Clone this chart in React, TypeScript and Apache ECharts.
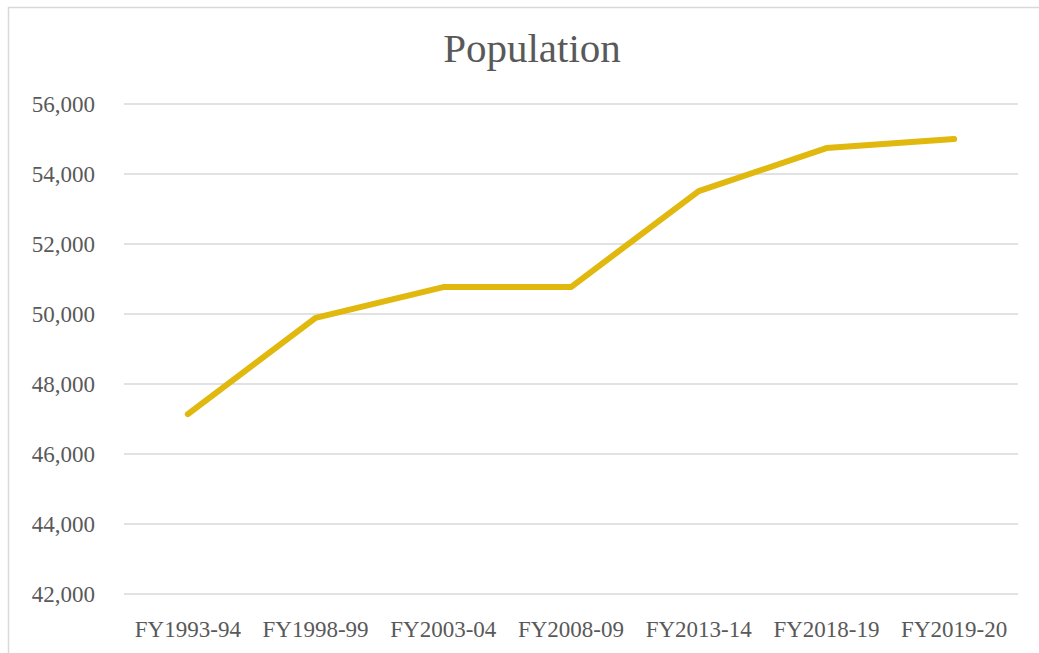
import React, { useEffect, useRef } from "react";
import * as echarts from "echarts";

const categories = ["FY1993-94", "FY1998-99", "FY2003-04", "FY2008-09", "FY2013-14", "FY2018-19", "FY2019-20"];
const population = [47140, 49890, 50770, 50770, 53510, 54740, 55000];
const yMin = 42000;
const yMax = 56000;
const yStep = 2000;

const FONT = "'Palatino Linotype', 'Book Antiqua', Palatino, 'Liberation Serif', serif";

export default function App() {
  const ref = useRef<HTMLDivElement>(null);
  useEffect(() => {
    if (!ref.current) return;
    const chart = echarts.init(ref.current, null, { renderer: "svg" });
    chart.setOption({
      animation: false,
      backgroundColor: "#ffffff",
      title: {
        text: "Population",
        left: 527,
        top: 22,
        textAlign: "center",
        textStyle: { fontFamily: FONT, fontSize: 41, fontWeight: "normal", color: "#595959" },
      },
      graphic: [
        {
          type: "rect",
          left: 6,
          top: 5,
          shape: { width: 1060, height: 680 },
          style: { fill: "none", stroke: "#d9d9d9", lineWidth: 1.5 },
          silent: true,
        },
      ],
      grid: { left: 124, right: 21, top: 104, bottom: 59, containLabel: false },
      xAxis: {
        type: "category",
        data: categories,
        boundaryGap: true,
        axisLine: { show: false },
        axisTick: { show: false },
        axisLabel: {
          fontFamily: FONT,
          fontSize: 23,
          color: "#595959",
          margin: 24,
          interval: 0,
        },
      },
      yAxis: {
        type: "value",
        min: yMin,
        max: yMax,
        interval: yStep,
        axisLine: { show: false },
        axisTick: { show: false },
        splitLine: { lineStyle: { color: "#d9d9d9", width: 1.5 } },
        axisLabel: {
          fontFamily: FONT,
          fontSize: 23,
          color: "#595959",
          margin: 29,
          formatter: (v: number) => v.toLocaleString("en-US"),
        },
      },
      series: [
        {
          type: "line",
          data: population,
          symbol: "none",
          lineStyle: { color: "#E1B80E", width: 6, cap: "round", join: "round" },
        },
      ],
    });
    return () => chart.dispose();
  }, []);
  return <div ref={ref} style={{ width: 1039, height: 653, position: "absolute", left: 0, top: 0 }} />;
}
